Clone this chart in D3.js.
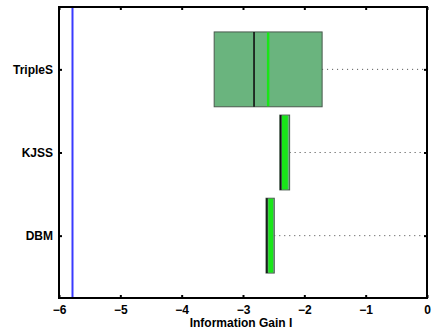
<!DOCTYPE html>
<html>
<head>
<meta charset="utf-8">
<script src="https://cdn.jsdelivr.net/npm/d3@7"></script>
<style>
  html, body { margin: 0; padding: 0; background: #fff; }
  svg { display: block; }
  text { font-family: "Liberation Sans", Arial, Helvetica, sans-serif; font-weight: bold; }
</style>
</head>
<body>
<svg id="chart" width="433" height="329"></svg>
<script>
// Models compared, drawn top to bottom
const categories = ["TripleS", "KJSS", "DBM"];
// Box bounds (lower / upper quartile)
const q1 = [-3.47, -2.40, -2.625];
const q3 = [-1.71, -2.24, -2.49];
// Median marker (black)
const median = [-2.82, -2.385, -2.61];
// Highlighted band (bright green)
const bandLo = [-2.61, -2.365, -2.585];
const bandHi = [-2.57, -2.27, -2.51];
// Upper whisker end
const whiskerHi = [0, 0, 0];
// Reference level (blue vertical line)
const referenceLevel = -5.78;
// Axis ticks
const xTicks = [-6, -5, -4, -3, -2, -1, 0];
const xLabel = "Information Gain I";

const svg = d3.select("#chart");
const plotL = 59, plotR = 427, plotT = 7, plotB = 298;

const x = d3.scaleLinear().domain([-6, 0]).range([plotL, plotR]);
// categories sit at positions 3,2,1 (top to bottom)
const y = d3.scaleLinear().domain([3.75, 0.25]).range([plotT, plotB]);
const pos = i => categories.length - i;
const halfH = 0.45;

const g = svg.append("g");

// reference line
g.append("line")
  .attr("x1", x(referenceLevel)).attr("x2", x(referenceLevel))
  .attr("y1", plotT).attr("y2", plotB)
  .attr("stroke", "#3a3aff").attr("stroke-width", 2);

categories.forEach((c, i) => {
  const yc = y(pos(i));
  const y0 = y(pos(i) + halfH), y1 = y(pos(i) - halfH);
  // whisker (dotted)
  g.append("line")
    .attr("x1", x(q3[i])).attr("x2", x(whiskerHi[i]))
    .attr("y1", yc).attr("y2", yc)
    .attr("stroke", "#444").attr("stroke-width", 1)
    .attr("stroke-dasharray", "1,4");
  // box
  g.append("rect")
    .attr("x", x(q1[i])).attr("y", y0)
    .attr("width", x(q3[i]) - x(q1[i])).attr("height", y1 - y0)
    .attr("fill", "#6ab47e").attr("stroke", "#4a5a4e").attr("stroke-width", 1);
  // green band
  g.append("rect")
    .attr("x", x(bandLo[i])).attr("y", y0 + 0.5)
    .attr("width", x(bandHi[i]) - x(bandLo[i])).attr("height", y1 - y0 - 1)
    .attr("fill", "#19e619");
  // median
  g.append("line")
    .attr("x1", x(median[i])).attr("x2", x(median[i]))
    .attr("y1", y0).attr("y2", y1)
    .attr("stroke", "#111").attr("stroke-width", 1.6);
});

// frame
g.append("rect")
  .attr("x", plotL).attr("y", plotT)
  .attr("width", plotR - plotL).attr("height", plotB - plotT)
  .attr("fill", "none").attr("stroke", "#000").attr("stroke-width", 2);

// bottom axis (ticks inward)
const xAxis = d3.axisBottom(x).tickValues(xTicks).tickSize(-3).tickPadding(7)
  .tickFormat(d => d === 0 ? "0" : d3.format("")(d).replace("-", "\u2212"));
const gx = svg.append("g").attr("transform", `translate(0,${plotB})`).call(xAxis);
gx.select(".domain").remove();
gx.selectAll(".tick line").attr("stroke", "#000").attr("stroke-width", 2);
gx.selectAll("text").attr("font-size", 12).attr("fill", "#000");

// top ticks
const gxt = svg.append("g").attr("transform", `translate(0,${plotT})`)
  .call(d3.axisTop(x).tickValues(xTicks).tickSize(-3).tickFormat(""));
gxt.select(".domain").remove();
gxt.selectAll(".tick line").attr("stroke", "#000").attr("stroke-width", 2);

// left axis with category names
const yAxis = d3.axisLeft(y).tickValues(categories.map((c, i) => pos(i)))
  .tickSize(-3).tickPadding(6)
  .tickFormat(d => categories[categories.length - d]);
const gy = svg.append("g").attr("transform", `translate(${plotL},0)`).call(yAxis);
gy.select(".domain").remove();
gy.selectAll(".tick line").attr("stroke", "#000").attr("stroke-width", 2);
gy.selectAll("text").attr("font-size", 12).attr("fill", "#000");

// right ticks
const gyr = svg.append("g").attr("transform", `translate(${plotR},0)`)
  .call(d3.axisRight(y).tickValues(categories.map((c, i) => pos(i))).tickSize(-3).tickFormat(""));
gyr.select(".domain").remove();
gyr.selectAll(".tick line").attr("stroke", "#000").attr("stroke-width", 2);

// axis title
svg.append("text")
  .attr("x", 241).attr("y", 327)
  .attr("text-anchor", "middle").attr("font-size", 12).attr("fill", "#000")
  .text(xLabel);
</script>
</body>
</html>
